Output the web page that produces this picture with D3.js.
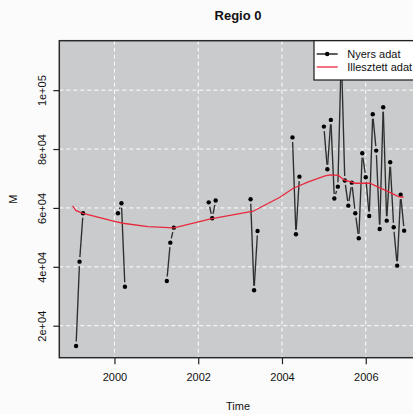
<!DOCTYPE html>
<html>
<head>
<meta charset="utf-8">
<script src="https://cdn.jsdelivr.net/npm/d3@7"></script>
<style>
  html, body { margin: 0; padding: 0; background: #fbfbfb; }
  svg { display: block; }
  text { font-family: "Liberation Sans", Arial, Helvetica, sans-serif; fill: #111; }
</style>
</head>
<body>
<svg id="chart" width="413" height="414"></svg>
<script>
// ---- data (monthly series starting January 1999; null = missing) ----
const startYear = 1999;
const raw1999 = [null, 13100, 41750, 58200, null, null, null, null, null, null, null, null];
const raw2000 = [null, 58200, 61600, 33250, null, null, null, null, null, null, null, null];
const raw2001 = [null, null, null, 35200, 48200, 53300, null, null, null, null, null, null];
const raw2002 = [null, null, null, 61900, 56500, 62500, null, null, null, null, null, null];
const raw2003 = [null, null, null, 62950, 32030, 52180, null, null, null, null, null, null];
const raw2004 = [null, null, null, 83950, 51060, 70630, null, null, null, null, null, null];
const raw2005 = [87620, 73150, 89900, 63220, 67230, 112500, 69340, 60780, 68590, 58190, 49700, 78580];
const raw2006 = [70430, 57280, 91830, 79470, 52860, 94210, 55680, 75520, 53440, 40390, 64510, 52280];

// fitted curve (time, value)
const fitTime  = [1999.0, 1999.083, 1999.25, 2000.0, 2000.2, 2000.8, 2001.42, 2002.3, 2003.25, 2003.3, 2003.95, 2004.27, 2004.63, 2005.03, 2005.15, 2005.35, 2005.43, 2005.48, 2005.75, 2006.1, 2006.26, 2006.5, 2006.78, 2006.9];
const fitValue = [60670, 59080, 58190, 55400, 54800, 53640, 53200, 56260, 58740, 58800, 63630, 66690, 68830, 70870, 71210, 71040, 70090, 69510, 68390, 68390, 67300, 65770, 63830, 63630];

const xTicks = [2000, 2002, 2004, 2006];
const yTicks = [20000, 40000, 60000, 80000, 100000];
const yTickLabels = ["2e+04", "4e+04", "6e+04", "8e+04", "1e+05"];
const legendLabels = ["Nyers adat", "Illesztett adat"];
const titleText = "Regio 0";
const xLabel = "Time";
const yLabel = "M";

// ---- build ----
const rawAll = [].concat(raw1999, raw2000, raw2001, raw2002, raw2003, raw2004, raw2005, raw2006);
const raw = rawAll.map((v, i) => ({ t: startYear + i / 12, v: v }));
const fit = fitTime.map((t, i) => ({ t: t, v: fitValue[i] }));

const panel = { left: 59.3, right: 417.4, top: 40.7, bottom: 357.7 };
const x = d3.scaleLinear().domain([1998.683, 2007.233]).range([panel.left, panel.right]);
const y = d3.scaleLinear().domain([9130, 116800]).range([panel.bottom, panel.top]);

const svg = d3.select("#chart");

svg.append("defs").append("clipPath").attr("id", "clip")
  .append("rect")
  .attr("x", panel.left).attr("y", panel.top)
  .attr("width", panel.right - panel.left).attr("height", panel.bottom - panel.top);

// panel background
svg.append("rect")
  .attr("x", panel.left).attr("y", panel.top)
  .attr("width", panel.right - panel.left).attr("height", panel.bottom - panel.top)
  .attr("fill", "#c9cbcc");

// grid
const grid = svg.append("g").attr("stroke", "#ffffff").attr("stroke-width", 1).attr("stroke-dasharray", "4,3");
grid.selectAll("line.v").data(xTicks).join("line")
  .attr("x1", d => x(d)).attr("x2", d => x(d))
  .attr("y1", panel.top).attr("y2", panel.bottom);
grid.selectAll("line.h").data(yTicks).join("line")
  .attr("x1", panel.left).attr("x2", panel.right)
  .attr("y1", d => y(d)).attr("y2", d => y(d));

// data layer
const plot = svg.append("g").attr("clip-path", "url(#clip)");

// black raw data, R type="b": segments with gaps around points
const gap = 4.5;
const segs = [];
for (let i = 1; i < raw.length; i++) {
  const a = raw[i - 1], b = raw[i];
  if (a.v == null || b.v == null) continue;
  const x1 = x(a.t), y1 = y(a.v), x2 = x(b.t), y2 = y(b.v);
  const dx = x2 - x1, dy = y2 - y1, len = Math.hypot(dx, dy);
  if (len <= 2 * gap) continue;
  const ux = dx / len, uy = dy / len;
  segs.push([x1 + ux * gap, y1 + uy * gap, x2 - ux * gap, y2 - uy * gap]);
}
plot.append("g").attr("stroke", "#2e2e2e").attr("stroke-width", 1.35).attr("stroke-linecap", "butt")
  .selectAll("line").data(segs).join("line")
  .attr("x1", d => d[0]).attr("y1", d => d[1]).attr("x2", d => d[2]).attr("y2", d => d[3]);

plot.append("g").attr("fill", "#000")
  .selectAll("circle").data(raw.filter(d => d.v != null)).join("circle")
  .attr("cx", d => x(d.t)).attr("cy", d => y(d.v)).attr("r", 2.2);

// red fitted line
plot.append("path").datum(fit)
  .attr("fill", "none").attr("stroke", "#e8283c").attr("stroke-width", 1.3)
  .attr("d", d3.line().x(d => x(d.t)).y(d => y(d.v)));

// panel border
svg.append("rect")
  .attr("x", panel.left).attr("y", panel.top)
  .attr("width", panel.right - panel.left).attr("height", panel.bottom - panel.top)
  .attr("fill", "none").attr("stroke", "#2a2a2a").attr("stroke-width", 1.5);

// x axis
const xAxis = d3.axisBottom(x).tickValues(xTicks).tickSize(6.5).tickPadding(10).tickFormat(d3.format("d"));
const gx = svg.append("g").attr("transform", `translate(0,${panel.bottom})`).call(xAxis);
gx.select(".domain").remove();
gx.selectAll(".tick line").attr("stroke", "#222").attr("stroke-width", 1.2);
gx.selectAll(".tick text").attr("font-size", 11).attr("fill", "#111")
  .attr("font-family", "'Liberation Sans', Arial, sans-serif").attr("dy", "0.71em").attr("y", 15.5);

// y axis
const yAxis = d3.axisLeft(y).tickValues(yTicks).tickSize(6).tickFormat((d, i) => yTickLabels[i]);
const gy = svg.append("g").attr("transform", `translate(${panel.left},0)`).call(yAxis);
gy.select(".domain").remove();
gy.selectAll(".tick line").attr("stroke", "#222").attr("stroke-width", 1.2);
gy.selectAll(".tick text")
  .attr("font-size", 11).attr("fill", "#111")
  .attr("font-family", "'Liberation Sans', Arial, sans-serif")
  .attr("x", null).attr("dy", null)
  .attr("text-anchor", "middle")
  .attr("transform", "translate(-13.6,0) rotate(-90)");

// titles
svg.append("text").attr("x", 238).attr("y", 19.8).attr("text-anchor", "middle")
  .attr("font-size", 13).attr("font-weight", "bold").text(titleText);
svg.append("text").attr("x", 238).attr("y", 409.6).attr("text-anchor", "middle")
  .attr("font-size", 11).text(xLabel);
svg.append("text").attr("transform", "translate(17.3,199.2) rotate(-90)").attr("text-anchor", "middle")
  .attr("font-size", 11).text(yLabel);

// legend
const lg = svg.append("g");
lg.append("rect").attr("x", 314).attr("y", panel.top).attr("width", 104).attr("height", 39.3)
  .attr("fill", "#ffffff").attr("stroke", "#1a1a1a").attr("stroke-width", 1.2);
const rows = [54, 67];
const legColors = ["#1a1a1a", "#e8283c"];
legendLabels.forEach((lab, i) => {
  lg.append("line").attr("x1", 316.7).attr("x2", 337.7).attr("y1", rows[i]).attr("y2", rows[i])
    .attr("stroke", legColors[i]).attr("stroke-width", i === 0 ? 1.4 : 1.3);
  if (i === 0) lg.append("circle").attr("cx", 327.2).attr("cy", rows[i]).attr("r", 2.2).attr("fill", "#000");
  lg.append("text").attr("x", 347.3).attr("y", rows[i] + 4).attr("font-size", 11).text(lab);
});
</script>
</body>
</html>
